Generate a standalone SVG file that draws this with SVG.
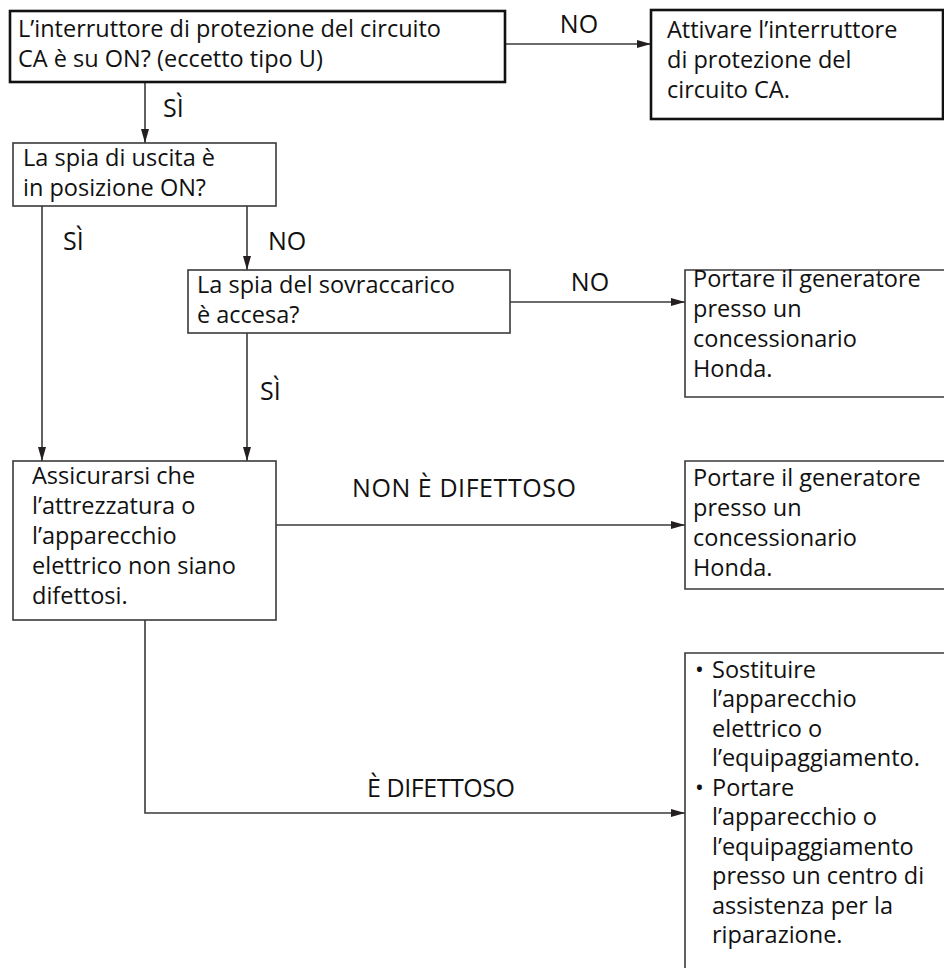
<svg xmlns="http://www.w3.org/2000/svg" width="944" height="968" viewBox="0 0 944 968">
<defs>
<marker id="ah" viewBox="0 0 14 8" refX="14" refY="4" markerWidth="14" markerHeight="8" markerUnits="userSpaceOnUse" orient="auto">
<path d="M0,0 L14,4 L0,8 Z" fill="#231f20"/>
</marker>
<style>
text{font-family:"Open Sans","Noto Sans","Liberation Sans",sans-serif;font-size:23.5px;fill:#111}
.m{text-anchor:middle}
.lb{font-size:25px}
.box{fill:#fff;stroke:#3a3a3a;stroke-width:1.6}
.bold{fill:#fff;stroke:#111;stroke-width:2.6}
.open{fill:none;stroke:#3a3a3a;stroke-width:1.6}
.c{fill:none;stroke:#3a3a3a;stroke-width:1.6}
.a{marker-end:url(#ah)}
</style>
</defs>
<rect width="944" height="968" fill="#fff"/>
<g id="connectors">
<line class="c a" x1="145" y1="82" x2="145" y2="143"/>
<line class="c a" x1="505" y1="44" x2="651" y2="44"/>
<line class="c a" x1="42" y1="206" x2="42" y2="461"/>
<line class="c a" x1="247" y1="206" x2="247" y2="270"/>
<line class="c a" x1="510" y1="302" x2="685" y2="302"/>
<line class="c a" x1="247" y1="333" x2="247" y2="461"/>
<line class="c a" x1="276" y1="525" x2="685" y2="525"/>
<polyline class="c a" points="145,620 145,813 685,813"/>
<text class="m lb" x="579" y="33">NO</text>
<text class="lb" x="163" y="117">SÌ</text>
<text class="lb" x="63" y="250">SÌ</text>
<text class="lb" x="268" y="250">NO</text>
<text class="m lb" x="590" y="291">NO</text>
<text class="lb" x="260" y="400">SÌ</text>
<text class="lb" x="352" y="497" textLength="224" lengthAdjust="spacing">NON È DIFETTOSO</text>
<text class="lb" x="367" y="797" textLength="148" lengthAdjust="spacing">È DIFETTOSO</text>
</g>
<g id="n1">
<rect class="bold" x="10" y="11" width="495" height="71"/>
<text x="18" y="37">L’interruttore di protezione del circuito</text>
<text x="18" y="67">CA è su ON? (eccetto tipo U)</text>
</g>
<g id="n2">
<rect class="bold" x="651" y="10" width="292" height="109"/>
<text x="667" y="38">Attivare l’interruttore</text>
<text x="667" y="68">di protezione del</text>
<text x="667" y="98">circuito CA.</text>
</g>
<g id="n3">
<rect class="box" x="13" y="143" width="263" height="63"/>
<text x="23" y="166">La spia di uscita è</text>
<text x="23" y="196">in posizione ON?</text>
</g>
<g id="n4">
<rect class="box" x="188" y="270" width="322" height="63"/>
<text x="197" y="293">La spia del sovraccarico</text>
<text x="197" y="323">è accesa?</text>
</g>
<g id="n5">
<path class="open" d="M946,270 H685 V397 H946"/>
<text x="693" y="287">Portare il generatore</text>
<text x="693" y="317">presso un</text>
<text x="693" y="347">concessionario</text>
<text x="693" y="377">Honda.</text>
</g>
<g id="n6">
<rect class="box" x="13" y="461" width="263" height="159"/>
<text x="32" y="484">Assicurarsi che</text>
<text x="32" y="514">l’attrezzatura o</text>
<text x="32" y="544">l’apparecchio</text>
<text x="32" y="574">elettrico non siano</text>
<text x="32" y="604">difettosi.</text>
</g>
<g id="n7">
<path class="open" d="M946,461 H685 V589 H946"/>
<text x="693" y="486">Portare il generatore</text>
<text x="693" y="516">presso un</text>
<text x="693" y="546">concessionario</text>
<text x="693" y="576">Honda.</text>
</g>
<g id="n8">
<path class="open" d="M946,653 H685 V970"/>
<text x="695" y="678">•</text>
<text x="712" y="678">Sostituire</text>
<text x="712" y="707">l’apparecchio</text>
<text x="712" y="737">elettrico o</text>
<text x="712" y="766">l’equipaggiamento.</text>
<text x="695" y="796">•</text>
<text x="712" y="796">Portare</text>
<text x="712" y="825">l’apparecchio o</text>
<text x="712" y="855">l’equipaggiamento</text>
<text x="712" y="884">presso un centro di</text>
<text x="712" y="914">assistenza per la</text>
<text x="712" y="943">riparazione.</text>
</g>
</svg>
